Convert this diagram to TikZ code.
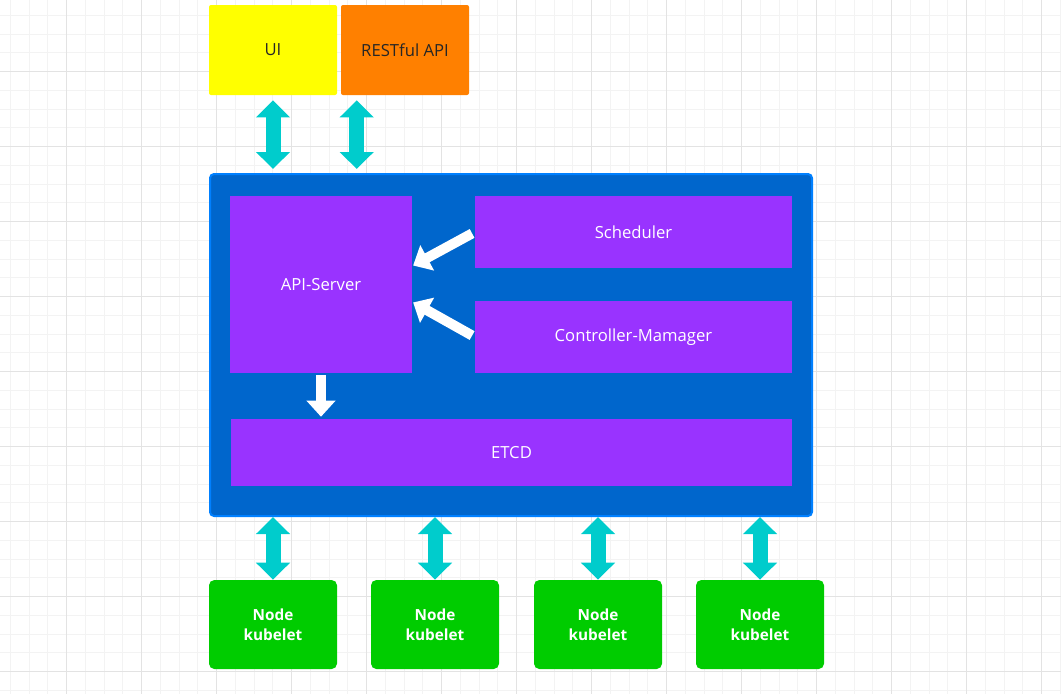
\documentclass[tikz,border=0pt]{standalone}
\usepackage{fontspec}
\setmainfont{Open Sans}
\usepackage{tikz}
\usetikzlibrary{arrows.meta,calc,positioning}
\definecolor{uiyellow}{HTML}{FFFF00}
\definecolor{restorange}{HTML}{FF8000}
\definecolor{masterblue}{HTML}{0066CC}
\definecolor{masterline}{HTML}{0080FF}
\definecolor{comppurple}{HTML}{9933FF}
\definecolor{workergreen}{HTML}{00CC00}
\definecolor{linkcyan}{HTML}{00CCCC}
\definecolor{minorgrid}{HTML}{F3F3F3}
\definecolor{majorgrid}{HTML}{E3E3E3}
\tikzset{
  topbox/.style={rectangle,rounded corners=1.5pt,minimum width=96pt,minimum height=67.5pt,
                 inner sep=0pt,text=black!85,font=\fontsize{12.5}{14}\selectfont},
  masterbox/.style={rectangle,rounded corners=3pt,fill=masterblue,draw=masterline,line width=1.5pt,
                    minimum width=451.5pt,minimum height=256.5pt,inner sep=0pt},
  compbox/.style={rectangle,fill=comppurple,inner sep=0pt,text=white,
                  font=\fontsize{12.5}{14}\selectfont},
  workerbox/.style={rectangle,rounded corners=4pt,fill=workergreen,minimum width=96pt,
                    minimum height=66.75pt,inner sep=0pt,text=white,align=center,
                    font=\fontsize{11.5}{15}\selectfont\bfseries},
  dblarrow/.style={draw=linkcyan,line width=11.25pt,
                   arrows={Triangle[length=12.75pt,width=24.75pt]-Triangle[length=12.75pt,width=24.75pt]}},
  whitearrow/.style={draw=white,line width=7.5pt,-{Triangle[length=12pt,width=21pt]}}
}

\begin{document}
\begin{tikzpicture}[x=0.75pt,y=-0.75pt]
      \useasboundingbox (0,0) rectangle (1061,694);

      % Draw background grid.
      \foreach \i in {0,...,56}
        \draw[minorgrid,line width=0.75pt] ({10.25+18.75*\i},0) -- ({10.25+18.75*\i},694);
      \foreach \i in {0,...,37}
        \draw[minorgrid,line width=0.75pt] (0,{15.25+18.75*\i}) -- (1061,{15.25+18.75*\i});
      \foreach \i in {0,...,13}
        \draw[majorgrid,line width=0.75pt] ({66.5+75*\i},0) -- ({66.5+75*\i},694);
      \foreach \i in {0,...,9}
        \draw[majorgrid,line width=0.75pt] (0,{-3.5+75*\i}) -- (1061,{-3.5+75*\i});

      % Draw clients on top.
      \node[topbox,fill=uiyellow] (ui) at (273,50) {UI};
      \node[topbox,fill=restorange] (rest) at (405,50) {RESTful API};

      % Draw master with its components.
      \node[masterbox] (master) at (511,345) {};
      \node[compbox,minimum width=136.5pt,minimum height=132.75pt] (api) at (321,284.5) {API-Server};
      \node[compbox,minimum width=237.75pt,minimum height=54pt] (sched) at (633.5,232) {Scheduler};
      \node[compbox,minimum width=237.75pt,minimum height=54pt] (ctrl) at (633.5,337) {Controller-Mamager};
      \node[compbox,minimum width=420.75pt,minimum height=50.25pt] (etcd) at (511.5,452.5) {ETCD};

      % Draw worker nodes.
      \foreach \x [count=\n] in {273,435,598,760}
        \node[workerbox] (node\n) at (\x,624.5) {Node\\kubelet};

      % Links between clients and master.
      \coordinate (restport) at ([xshift=12pt]rest.south west);
      \draw[dblarrow,shorten <=3.75pt,shorten >=3pt] (ui.south) -- (ui.south |- master.north);
      \draw[dblarrow,shorten <=3.75pt,shorten >=3pt] (restport) -- (restport |- master.north);

      % Links inside master.
      \draw[whitearrow,shorten <=2.25pt,shorten >=0.75pt] (sched.west) -- ([yshift=13.9pt]api.east);
      \draw[whitearrow,shorten <=2.25pt,shorten >=0.75pt] (ctrl.west) -- ([yshift=-13.1pt]api.east);
      \draw[whitearrow,shorten <=1.5pt,shorten >=1.5pt] (api.south) -- (api.south |- etcd.north);

      % Links between master and worker nodes.
      \foreach \n in {1,...,4}
        \draw[dblarrow] (master.south -| node\n.north) -- (node\n.north);

    \end{tikzpicture}
\end{document}
